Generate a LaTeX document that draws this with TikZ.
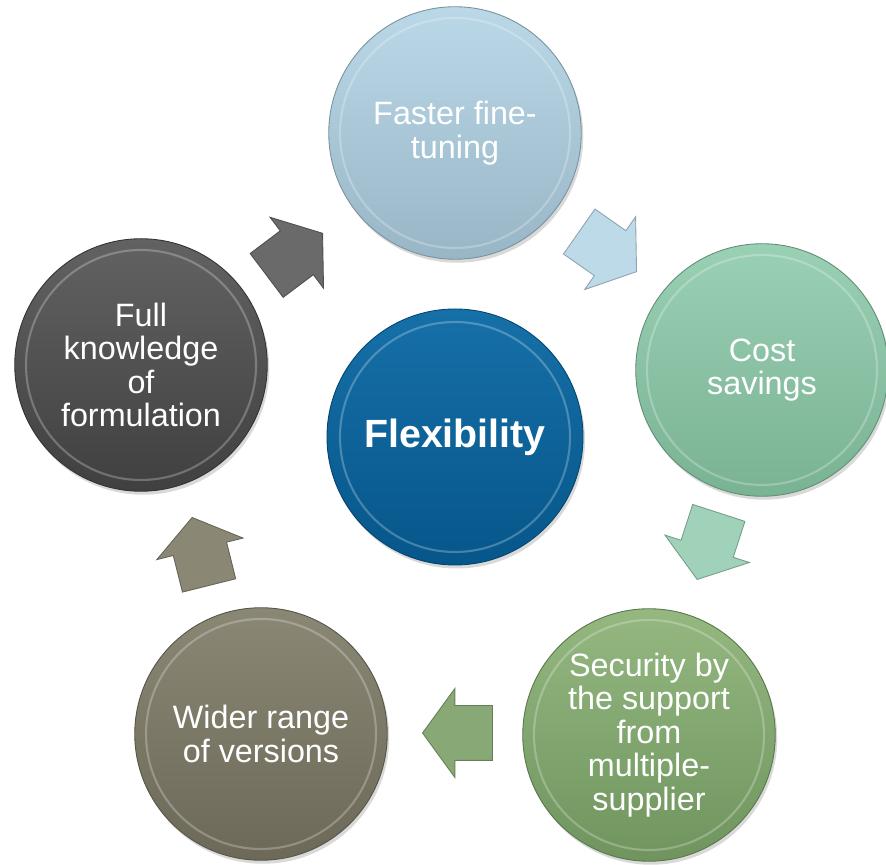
\documentclass[tikz,border=0pt]{standalone}
\usepackage{fontspec}
\setmainfont{Liberation Sans}
\usetikzlibrary{shapes.arrows,shadows}

\definecolor{flexA}{RGB}{22,112,168}
\definecolor{flexB}{RGB}{6,86,138}
\definecolor{tuneA}{RGB}{186,216,232}
\definecolor{tuneB}{RGB}{152,182,198}
\definecolor{costA}{RGB}{154,208,180}
\definecolor{costB}{RGB}{122,178,148}
\definecolor{supplyA}{RGB}{148,184,128}
\definecolor{supplyB}{RGB}{112,148,94}
\definecolor{rangeA}{RGB}{138,135,117}
\definecolor{rangeB}{RGB}{108,105,88}
\definecolor{formA}{RGB}{98,98,98}
\definecolor{formB}{RGB}{64,64,64}

\begin{document}
\begin{tikzpicture}[thick,
    ball/.style={circle,minimum size=5.05cm,inner sep=0pt,align=center,
      text=white,font=\fontsize{18.4}{19}\selectfont,
      top color=#1A,bottom color=#1B,draw=#1B!80!black,line width=0.5pt,
      drop shadow={opacity=0.3,shadow xshift=0.04cm,shadow yshift=-0.07cm},
      path picture={\draw[white,opacity=0.25,line width=1.2pt]
        (path picture bounding box.center) circle (2.3cm);}},
    turn/.style={single arrow,anchor=tip,minimum height=1.4cm,inner xsep=0pt,
      inner ysep=0.54cm,single arrow head extend=0.34cm,single arrow tip angle=108,
      fill=#1,draw=#1!75!black,line width=0.5pt}]

  \useasboundingbox (0,0) rectangle (17.72,17.30);

  % circles
  \node[ball=flex,minimum size=5.12cm,font=\fontsize{22.4}{26}\selectfont\bfseries]
    (flex) at (9.10,8.56) {Flexibility};
  \node[ball=tune] (tune) at (9.10,14.64) {Faster fine-\\tuning};
  \node[ball=cost] (cost) at (15.24,9.90) {Cost\\savings};
  \node[ball=supply] (supply) at (12.98,2.60)
    {Security by\\the support\\from\\multiple-\\supplier};
  \node[ball=range] (range) at (5.22,2.62) {Wider range\\of versions};
  \node[ball=form] (form) at (2.82,10.00) {Full\\knowledge\\of\\formulation};

  % arrows between them (placed by their tips)
  \node[turn=formA!95!white,rotate=37] (a1) at (6.46,12.64) {};
  \node[turn=tuneA!95!white,rotate=-35] (a2) at (12.74,11.86) {};
  \node[turn=costA!95!white,rotate=-108] (a3) at (13.94,5.70) {};
  \node[turn=supplyA!92!black,rotate=180] (a4) at (8.44,2.64) {};
  \node[turn=rangeA,rotate=104] (a5) at (3.84,6.96) {};
\end{tikzpicture}
\end{document}
